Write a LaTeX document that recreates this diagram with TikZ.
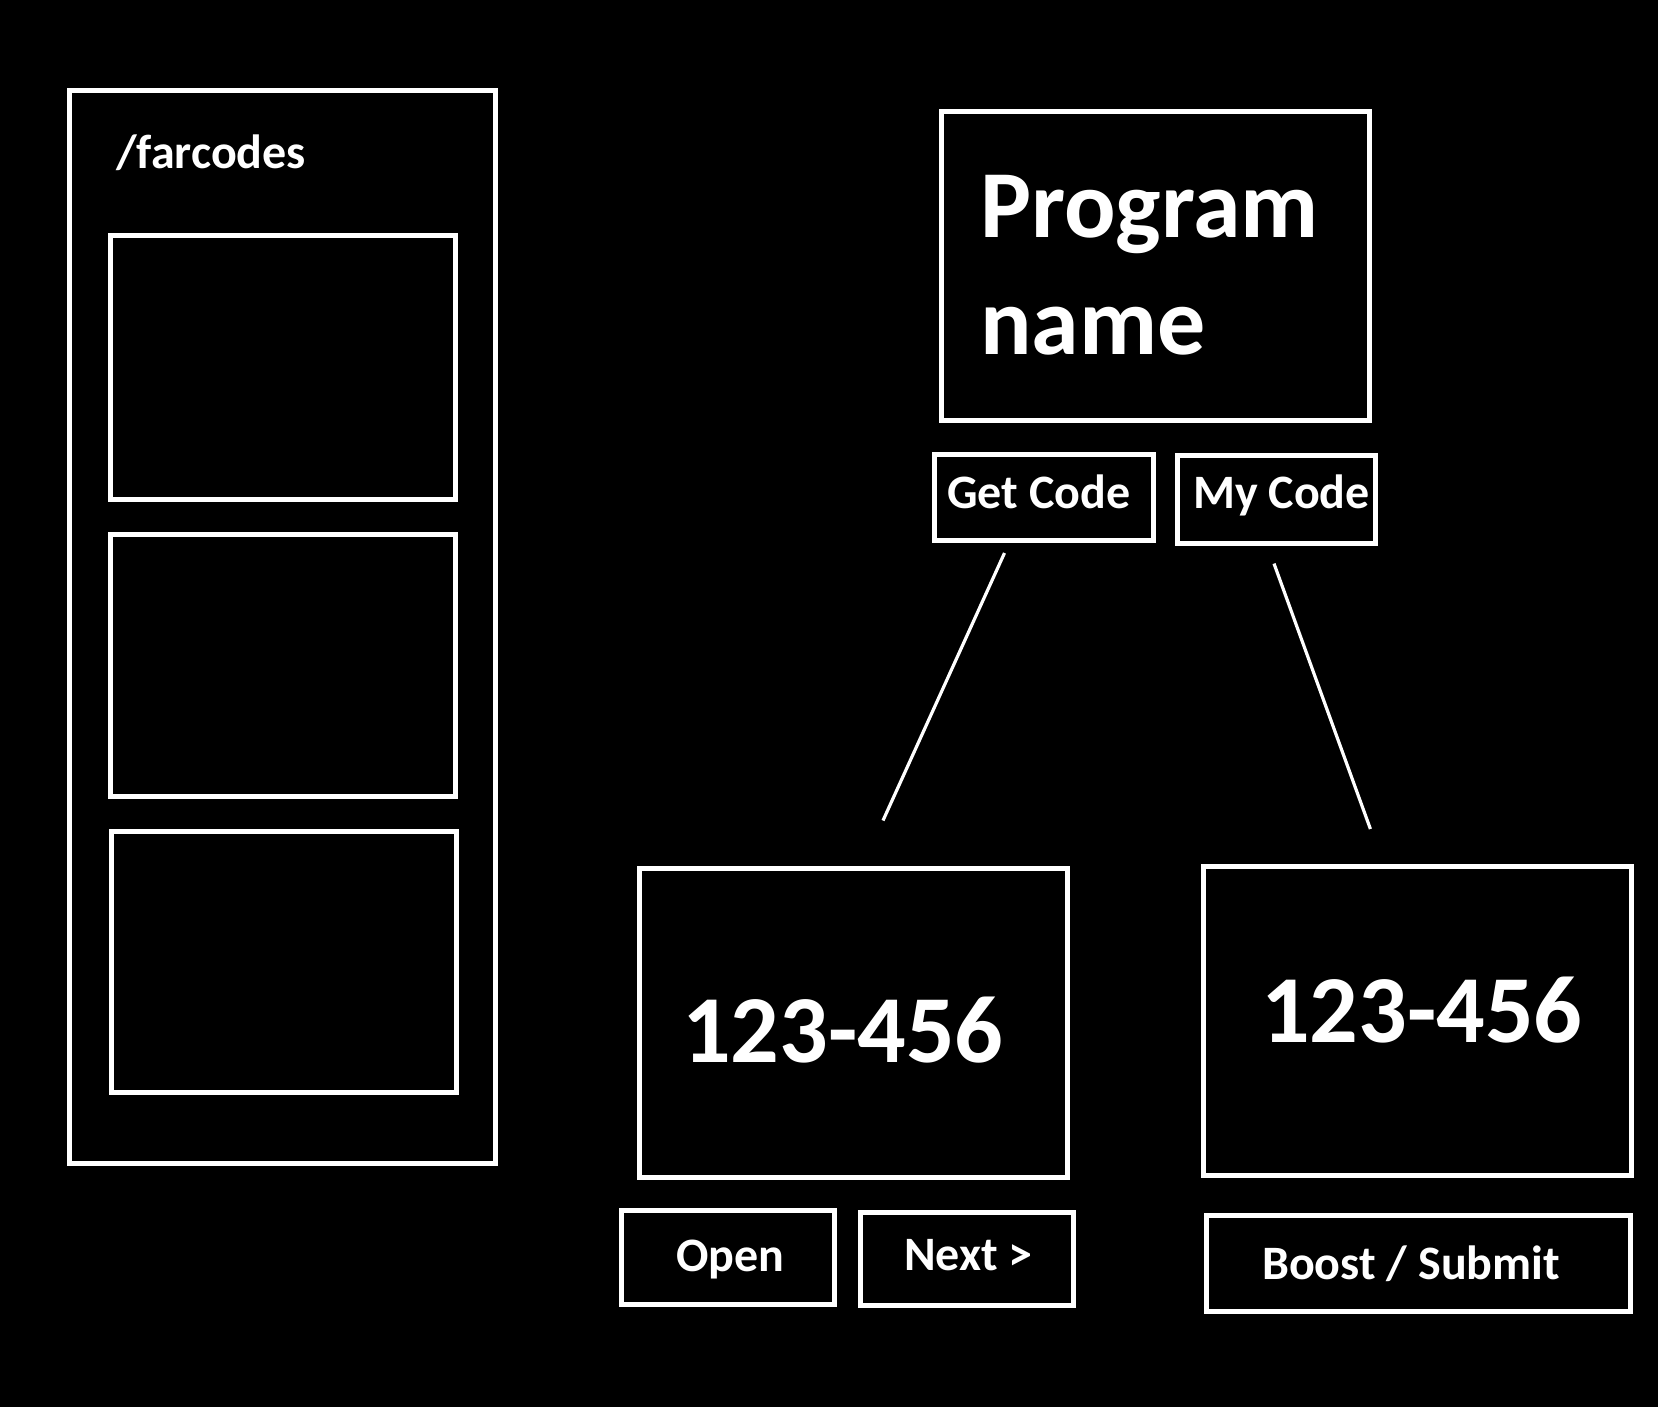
\documentclass[tikz,border=0pt]{standalone}
\usepackage{fontspec}
\setmainfont{Carlito}
\usetikzlibrary{fit}
\tikzset{
  box/.style={draw=white, line width=5pt, inner sep=0pt, outer sep=0pt},
  conn/.style={draw=white, line width=3.2pt},
  small/.style={text=white, inner sep=0pt, anchor=base west, font=\bfseries\fontsize{48}{57}\selectfont},
  big/.style={text=white, inner sep=0pt, anchor=base west, font=\bfseries\fontsize{96}{115}\selectfont},
}
\begin{document}
\begin{tikzpicture}[x=1pt,y=-1pt]
\fill[black] (0,0) rectangle (1658,1407);
\useasboundingbox (0,0) rectangle (1658,1407);
% left panel
\node[box, fit={(69,91) (495,1163)}] (panel) {};
\node[small] (farcodes) at (116,169) {/farcodes};
\node[box, fit={(110,236) (455,499)}] (slot1) {};
\node[box, fit={(110,534) (455,796)}] (slot2) {};
\node[box, fit={(111,831) (456,1092)}] (slot3) {};
% program
\node[box, fit={(941.5,111.5) (1369,420.5)}] (prog) {};
\node[big] (progA) at (980,238) {Program};
\node[big] (progB) at (980,354) {name};
\node[box, fit={(934.5,454.5) (1153,540.5)}] (getb) {};
\node[small] (get) at (947,508) {Get Code};
\node[box, fit={(1177.5,455.5) (1375.5,543)}] (myb) {};
\node[small] (my) at (1193,508) {My Code};
% connectors
\coordinate (g1) at (1004.5,553);
\coordinate (g2) at (883,820.5);
\coordinate (m1) at (1274,563.6);
\coordinate (m2) at (1370.4,829);
\draw[conn] (g1) -- (g2);
\draw[conn] (m1) -- (m2);
% code boxes
\node[box, fit={(639,868.5) (1067.5,1177.5)}] (codeL) {};
\node[big] (codeLt) at (682,1062) {123-456};
\node[box, fit={(1203.5,866.5) (1631.5,1175.5)}] (codeR) {};
\node[big] (codeRt) at (1261,1042) {123-456};
% buttons
\node[box, fit={(621,1210.5) (834,1304.5)}] (openb) {};
\node[small] (open) at (676,1271) {Open};
\node[box, fit={(860,1212.5) (1073,1305.5)}] (nextb) {};
\node[small] (next) at (904,1270) {Next >};
\node[box, fit={(1206.5,1215) (1630,1311)}] (boostb) {};
\node[small] (boost) at (1262,1279) {Boost / Submit};
\end{tikzpicture}
\end{document}
